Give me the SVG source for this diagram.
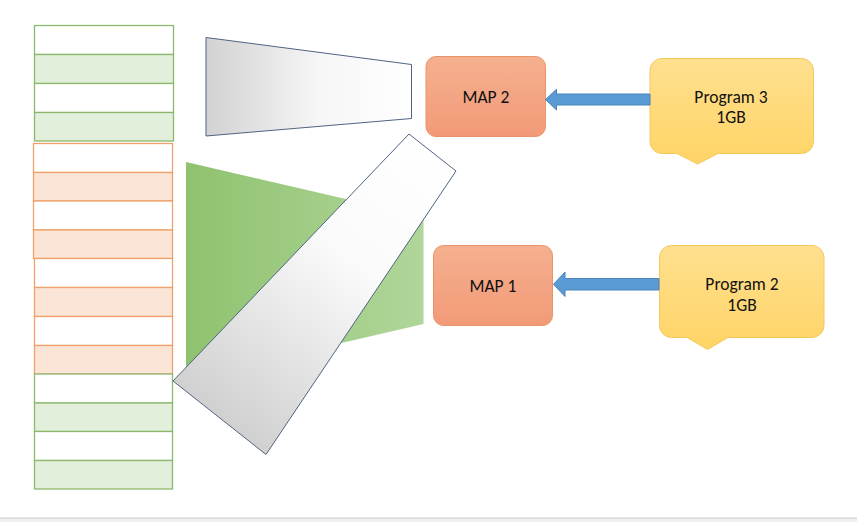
<svg xmlns="http://www.w3.org/2000/svg" width="857" height="522" viewBox="0 0 857 522">
<style>
.gw{fill:#ffffff;stroke:#8cb86e;stroke-width:1.3}
.gf{fill:#e2efda;stroke:#8cb86e;stroke-width:1.3}
.ow{fill:#ffffff;stroke:#f0a06a;stroke-width:1.3}
.of{fill:#fbe5d6;stroke:#f0a06a;stroke-width:1.3}
.map{fill:url(#mapG);stroke:#e9936a;stroke-width:1}
.call{fill:url(#callG);stroke:#f5c85a;stroke-width:1}
.arr{fill:#5b9bd5;stroke:#4a84b8;stroke-width:1}
.funnel{stroke:#4f6480;stroke-width:1}
text{font-family:Calibri,Carlito,"Liberation Sans",Arial,sans-serif;font-size:17.5px;fill:#111;text-anchor:middle}
</style>
<defs>
<linearGradient id="grayH" x1="0" y1="0" x2="1" y2="0">
<stop offset="0" stop-color="#d2d2d2"/><stop offset="0.55" stop-color="#f6f6f6"/><stop offset="1" stop-color="#ffffff"/>
</linearGradient>
<linearGradient id="greenH" x1="0" y1="0" x2="1" y2="0">
<stop offset="0" stop-color="#8fc26f"/><stop offset="1" stop-color="#b0d69a"/>
</linearGradient>
<linearGradient id="grayD" gradientUnits="userSpaceOnUse" x1="220" y1="420" x2="432" y2="152">
<stop offset="0" stop-color="#d0d0d0"/><stop offset="0.6" stop-color="#fafafa"/><stop offset="1" stop-color="#ffffff"/>
</linearGradient>
<linearGradient id="mapG" x1="0" y1="0" x2="0" y2="1">
<stop offset="0" stop-color="#f5b08e"/><stop offset="1" stop-color="#f29a78"/>
</linearGradient>
<linearGradient id="callG" x1="0" y1="0" x2="0" y2="1">
<stop offset="0" stop-color="#ffe08f"/><stop offset="1" stop-color="#ffd466"/>
</linearGradient>
</defs>
<rect x="0" y="0" width="857" height="522" fill="#ffffff"/>
<rect x="0" y="518" width="857" height="4" fill="#f0f0f0"/>
<line x1="0" y1="518" x2="857" y2="518" stroke="#c8c8c8" stroke-width="1"/>

<g id="mem-top-green">
<rect class="gw" x="34.5" y="25.5" width="139" height="29"/>
<rect class="gf" x="34.5" y="54.5" width="139" height="29"/>
<rect class="gw" x="34.5" y="83.5" width="139" height="29"/>
<rect class="gf" x="34.5" y="112.5" width="139" height="28.5"/>
</g>
<g id="mem-orange-1">
<rect class="ow" x="33.5" y="143.5" width="139" height="29"/>
<rect class="of" x="33.5" y="172.5" width="139" height="28.5"/>
<rect class="ow" x="33.5" y="201" width="139" height="29"/>
<rect class="of" x="33.5" y="230" width="139" height="28.5"/>
</g>
<g id="mem-orange-2">
<rect class="ow" x="34.5" y="258.5" width="138" height="29"/>
<rect class="of" x="34.5" y="287.5" width="138" height="29"/>
<rect class="ow" x="34.5" y="316.5" width="138" height="29"/>
<rect class="of" x="34.5" y="345.5" width="138" height="28.5"/>
</g>
<g id="mem-bottom-green">
<rect class="gw" x="34.5" y="374" width="138" height="29"/>
<rect class="gf" x="34.5" y="403" width="138" height="28.5"/>
<rect class="gw" x="34.5" y="431.5" width="138" height="29"/>
<rect class="gf" x="34.5" y="460.5" width="138" height="28.5"/>
</g>

<g id="funnel-top">
<polygon class="funnel" fill="url(#grayH)" points="206,37.5 411.5,64.5 411.5,118.5 206,136"/>
</g>
<g id="funnel-green">
<polygon fill="url(#greenH)" points="186,162 423.5,217 423.5,324 186,379"/>
</g>
<g id="funnel-diag">
<polygon class="funnel" fill="url(#grayD)" points="409,134 456,171 266,454.5 173,381"/>
</g>

<g id="map2">
<rect class="map" x="426" y="56.5" width="119.5" height="80" rx="10"/>
<text x="486" y="102.5">MAP 2</text>
</g>
<g id="map1">
<rect class="map" x="433.5" y="245.5" width="119" height="80" rx="10"/>
<text x="493" y="292">MAP 1</text>
</g>

<g id="program3">
<path class="call" d="M662,58.5 H801.5 A12,12 0 0 1 813.5,70.5 V141.5 A12,12 0 0 1 801.5,153.5 H718 L697.5,164 L677,153.5 H662 A12,12 0 0 1 650,141.5 V70.5 A12,12 0 0 1 662,58.5 Z"/>
<text x="731" y="102.5">Program 3</text>
<text x="731" y="123">1GB</text>
</g>
<g id="program2">
<path class="call" d="M671.5,245.5 H812 A12,12 0 0 1 824,257.5 V325.5 A12,12 0 0 1 812,337.5 H728 L707.5,349.5 L687,337.5 H671.5 A12,12 0 0 1 659.5,325.5 V257.5 A12,12 0 0 1 671.5,245.5 Z"/>
<text x="742" y="290">Program 2</text>
<text x="742" y="310.5">1GB</text>
</g>

<g id="connectors">
<polygon class="arr" points="650,94 556.5,94 556.5,89.3 545.5,99.5 556.5,110 556.5,105 650,105"/>
<polygon class="arr" points="659,278.5 565,278.5 565,272 553.5,284.3 565,296.5 565,290 659,290"/>
</g>
</svg>
